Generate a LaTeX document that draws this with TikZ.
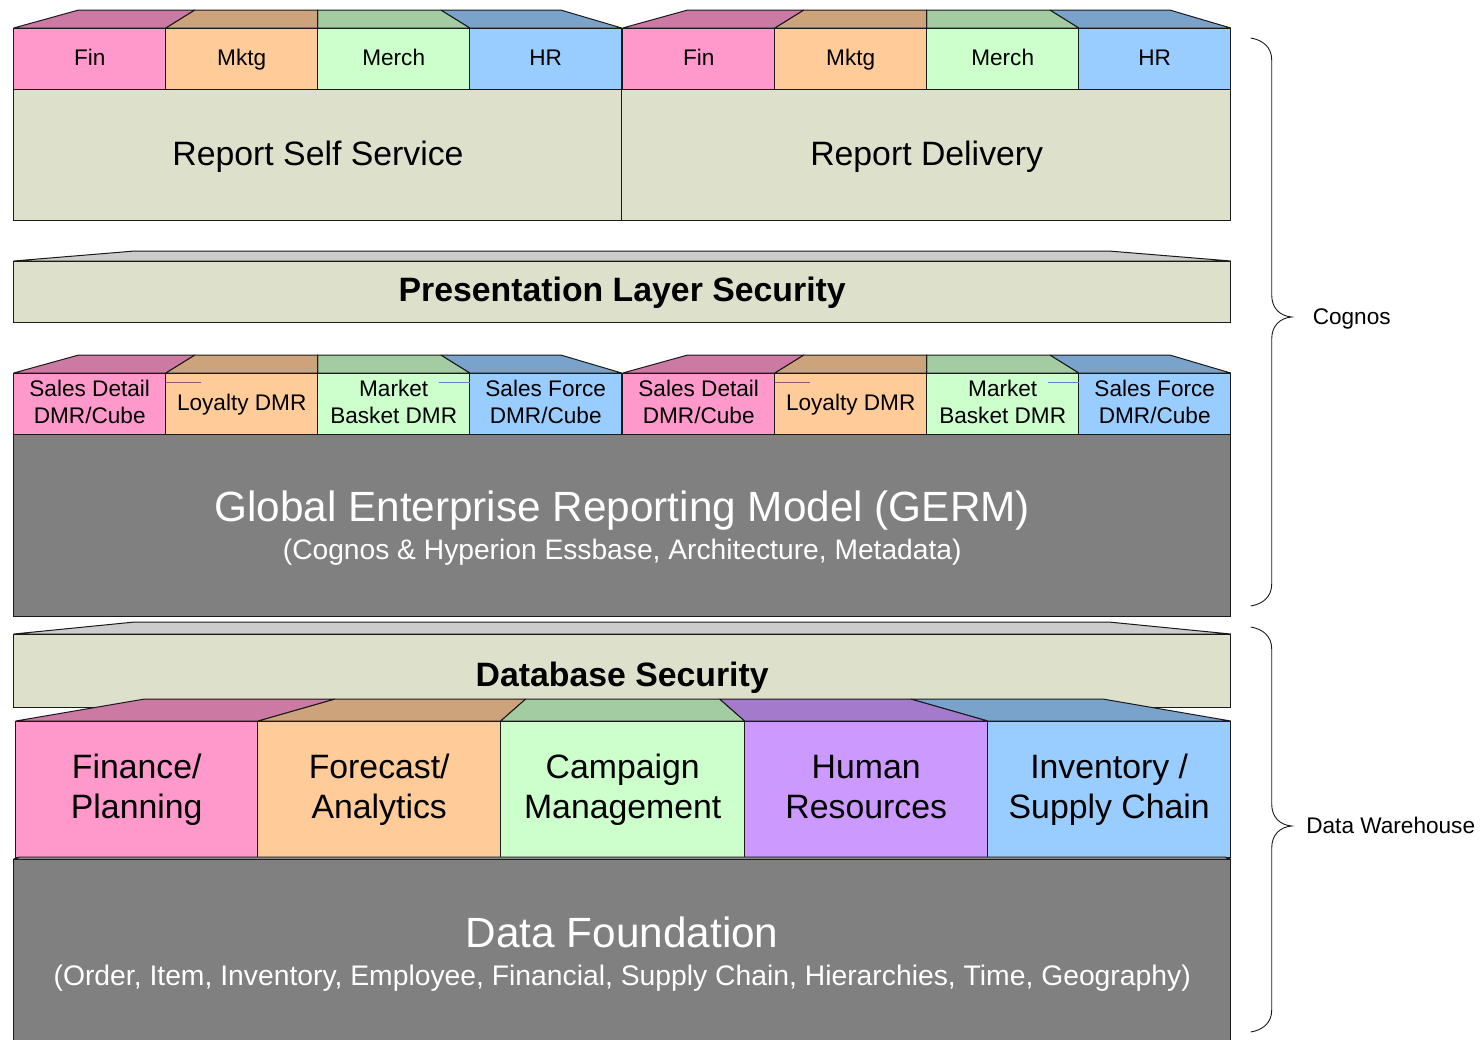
\documentclass[tikz,border=0pt]{standalone}
\usepackage{fontspec}
\setmainfont{Liberation Sans}
\definecolor{pinkb}{HTML}{FF99CC}\definecolor{pinkf}{HTML}{CC7AA3}
\definecolor{orab}{HTML}{FFCC99}\definecolor{oraf}{HTML}{CCA37A}
\definecolor{greb}{HTML}{CCFFCC}\definecolor{gref}{HTML}{A3CCA3}
\definecolor{blub}{HTML}{99CCFF}\definecolor{bluf}{HTML}{7AA3CC}
\definecolor{purb}{HTML}{CC99FF}\definecolor{purf}{HTML}{A37ACC}
\definecolor{beige}{HTML}{DDE1CB}\definecolor{greyb}{HTML}{808080}\definecolor{greyf}{HTML}{CCCCCC}
\definecolor{edge}{HTML}{1A1A1A}
\newcommand{\fs}[2]{\fontsize{#1}{#2}\selectfont}
\newcommand{\sv}{\rule[-0.27\baselineskip]{0pt}{\baselineskip}}
\newcommand{\svs}{\rule[-0.24\baselineskip]{0pt}{\baselineskip}}
\tikzset{
  x=1pt,y=-1pt,
  cell/.style={draw=edge,line width=1pt,inner sep=0pt,outer sep=0pt,align=center,text=black},
  face/.style={draw=edge,line width=1pt,line join=bevel},
  small/.style={font=\fs{22.6}{27}},
  big/.style={font=\fs{33.8}{40.3}},
  head/.style={font=\fs{33.8}{40.3}\bfseries},
  lightlabel/.style={text=white,inner sep=0pt},
  bracepath/.style={draw=edge,line width=0.9pt},
}
\newcommand{\bx}[7]{%
  \pgfmathsetmacro{\boxw}{#4-#2}\pgfmathsetmacro{\boxh}{#5-#3}%
  \pgfmathsetmacro{\boxx}{(#2+#4)/2}\pgfmathsetmacro{\boxy}{(#3+#5)/2}%
  \node[cell,#6,minimum width=\boxw pt,minimum height=\boxh pt] (#1) at (\boxx,\boxy) {#7};}
% four-cell row with its slanted top faces
\newcommand{\rowfour}[9]{%
  \begin{scope}[xshift=#5pt]
  \path[face,fill=bluf]  (470,#3) -- (441,#2) -- (561,#2) -- (622,#3) -- cycle;
  \path[face,fill=gref]  (318,#3) -- (318,#2) -- (441,#2) -- (470,#3) -- cycle;
  \path[face,fill=oraf]  (166,#3) -- (195,#2) -- (318,#2) -- (318,#3) -- cycle;
  \path[face,fill=pinkf] (14,#3) -- (79,#2) -- (195,#2) -- (166,#3) -- cycle;
  \bx{#1a}{14}{#3}{166}{#4}{fill=pinkb,small}{#6}
  \bx{#1b}{166}{#3}{318}{#4}{fill=orab,small}{#7}
  \bx{#1c}{318}{#3}{470}{#4}{fill=greb,small}{#8}
  \bx{#1d}{470}{#3}{622}{#4}{fill=blub,small}{#9}
  \end{scope}}
\newcommand{\ticks}[1]{%
  \begin{scope}[xshift=#1pt]
  \draw[pinkf!70!black,line width=0.7pt] (166,382) -- (201,382);
  \draw[bluf!80!blue,line width=0.7pt] (439,382) -- (470,382);
  \end{scope}}
\begin{document}
\begin{tikzpicture}
\useasboundingbox (0.3,0) rectangle (1482.3,1039);
% Top rows
\rowfour{ra}{10}{28}{89}{0}{\svs Fin}{\svs Mktg}{\svs Merch}{\svs HR}
\rowfour{rb}{10}{28}{89}{609}{\svs Fin}{\svs Mktg}{\svs Merch}{\svs HR}
\bx{self}{14}{89}{622}{220}{fill=beige,big}{}
\bx{delivery}{622}{89}{1231}{220}{fill=beige,big}{}
\node[big,inner sep=0pt] (selft) at (318.3,156) {\sv Report Self Service};
\node[big,inner sep=0pt] (delivt) at (927,156) {\sv Report Delivery};
% Presentation layer
\path[face,fill=greyf] (14,261) -- (135,251) -- (1109,251) -- (1231,261) -- cycle;
\bx{pres}{14}{261}{1231}{322}{fill=beige,head}{\svs Presentation Layer Security}
% DMR row
\rowfour{da}{355}{373}{434}{0}{\sv Sales Detail\\\sv DMR/Cube}{\svs Loyalty DMR}{\sv Market\\\sv Basket DMR}{\sv Sales Force\\\sv DMR/Cube}
\rowfour{db}{355}{373}{434}{609}{\sv Sales Detail\\\sv DMR/Cube}{\svs Loyalty DMR}{\sv Market\\\sv Basket DMR}{\sv Sales Force\\\sv DMR/Cube}
\ticks{0}\ticks{609}
\bx{germ}{14}{434}{1231}{616}{fill=greyb}{}
\node[lightlabel,font=\fs{42.3}{50}] (germt) at (622.5,510.5) {Global Enterprise Reporting Model (GERM)};
\node[lightlabel,font=\fs{28.2}{34}] (germs) at (622.5,552) {(Cognos \& Hyperion Essbase, Architecture, Metadata)};
% Database security
\path[face,fill=greyf] (14,634) -- (135,622) -- (1109,622) -- (1231,634) -- cycle;
\bx{dbsec}{14}{634}{1231}{707}{fill=beige}{}
\node[head,inner sep=0pt] (dbsect) at (622.5,677.7) {\sv Database Security};
% Subject areas
\path[face,fill=oraf]  (258,721) -- (335,699) -- (526,699) -- (501,721) -- cycle;
\path[face,fill=pinkf] (16,721) -- (145,699) -- (335,699) -- (258,721) -- cycle;
\path[face,fill=gref]  (501,721) -- (526,699) -- (720,699) -- (745,721) -- cycle;
\path[face,fill=bluf]  (988,721) -- (911,699) -- (1103,699) -- (1231,721) -- cycle;
\path[face,fill=purf]  (745,721) -- (720,699) -- (911,699) -- (988,721) -- cycle;
\bx{fin}{16}{721}{258}{857}{fill=pinkb,big}{\sv Finance/\\\sv Planning}
\bx{fore}{258}{721}{501}{857}{fill=orab,big}{\sv Forecast/\\\sv Analytics}
\bx{camp}{501}{721}{745}{857}{fill=greb,big}{\sv Campaign\\\sv Management}
\bx{hum}{745}{721}{988}{857}{fill=purb,big}{\sv Human\\\sv Resources}
\bx{inv}{988}{721}{1231}{857}{fill=blub,big}{\sv Inventory /\\\sv Supply Chain}
% Data foundation
\path[face,fill=greyf] (14,859) -- (20,857) -- (1225,857) -- (1231,859) -- cycle;
\bx{found}{14}{859}{1231}{1060}{fill=greyb}{}
\node[lightlabel,font=\fs{42.3}{50}] (foundt) at (622.5,932) {Data Foundation};
\node[lightlabel,font=\fs{28.3}{34}] (founds) at (622.5,978) {(Order, Item, Inventory, Employee, Financial, Supply Chain, Hierarchies, Time, Geography)};
% Braces
\coordinate (ca) at (1251,38);
\coordinate (cb) at (1292,317);
\coordinate (cc) at (1251,606);
\draw[bracepath] (ca) .. controls (1263,40) and (1272,47) .. (1272,60) -- (1272,295)
  .. controls (1272,308) and (1280,316) .. (cb) .. controls (1280,318) and (1272,326) .. (1272,339)
  -- (1272,584) .. controls (1272,597) and (1263,604) .. (cc);
\coordinate (da) at (1251,627);
\coordinate (dtip) at (1292,826);
\coordinate (dc) at (1251,1032);
\draw[bracepath] (da) .. controls (1263,629) and (1272,636) .. (1272,649) -- (1272,804)
  .. controls (1272,817) and (1280,825) .. (dtip) .. controls (1280,827) and (1272,835) .. (1272,848)
  -- (1272,1010) .. controls (1272,1023) and (1263,1030) .. (dc);
\node[small,inner sep=0pt] (cog) at (1352,317.8) {\sv Cognos};
\node[small,inner sep=0pt] (dw) at (1391,826.8) {\sv Data Warehouse};
\end{tikzpicture}
\end{document}
